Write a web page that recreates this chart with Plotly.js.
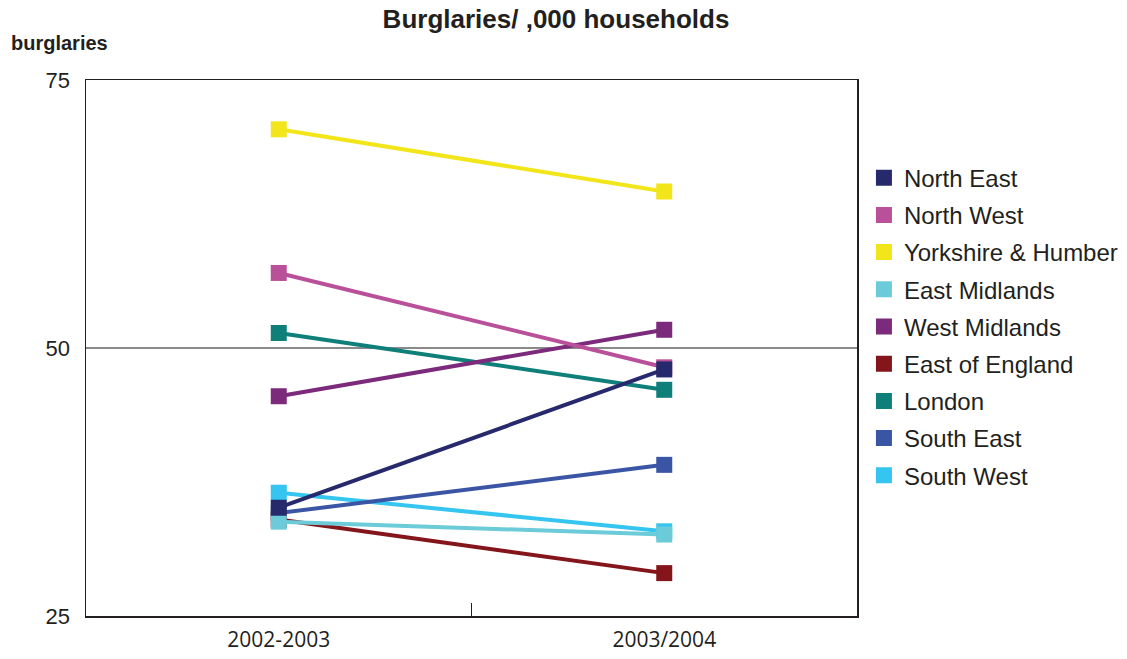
<!DOCTYPE html>
<html>
<head>
<meta charset="utf-8">
<script src="https://cdn.plot.ly/plotly-3.0.1.min.js"></script>
<style>
  html, body { margin: 0; padding: 0; background: #fff; }
  #chart { width: 1127px; height: 659px; }
</style>
</head>
<body>
<div id="chart"></div>
<script>
// Survey years on the category axis
const years = ['2002-2003', '2003/2004'];

// Regions in legend order, with their colours
const regions = ['North East', 'North West', 'Yorkshire & Humber', 'East Midlands',
  'West Midlands', 'East of England', 'London', 'South East', 'South West'];
const colors = ['#27296d', '#b9519a', '#f2e61a', '#6ccbd9',
  '#7c2a7b', '#84161b', '#0f7f7a', '#3a55a4', '#34c5f0'];

// Burglaries per 1,000 households, one array per region (2002-03, 2003/04)
const northEast = [35.1, 48.0];
const northWest = [57.0, 48.2];
const yorkshireHumber = [70.4, 64.6];
const eastMidlands = [33.8, 32.6];
const westMidlands = [45.5, 51.7];
const eastOfEngland = [34.0, 29.0];
const london = [51.4, 46.1];
const southEast = [34.6, 39.1];
const southWest = [36.5, 32.9];

const values = [northEast, northWest, yorkshireHumber, eastMidlands,
  westMidlands, eastOfEngland, london, southEast, southWest];

const yTicks = [25, 50, 75];

const FONT = '"Liberation Sans", Arial, Helvetica, sans-serif';
const TICK_FONT = '"Open Sans", "Noto Sans", sans-serif';
const TEXT = '#231f20';

const traces = [];
// Lines with markers; painted from South West up to North East so the
// North East series ends up on top.
for (let i = regions.length - 1; i >= 0; i--) {
  traces.push({
    type: 'scatter',
    mode: 'lines+markers',
    name: regions[i],
    x: years,
    y: values[i],
    line: { color: colors[i], width: 4 },
    marker: { symbol: 'square', size: 16, color: colors[i] },
    showlegend: false,
    hoverinfo: 'x+y+name'
  });
}
// Legend entries: square swatch only, in regional order
regions.forEach((name, i) => {
  traces.push({
    type: 'scatter',
    mode: 'markers',
    name: name,
    x: years,
    y: years.map(() => null),
    marker: { symbol: 'square', size: 16, color: colors[i] },
    legendrank: i + 1,
    legendgroup: name,
    showlegend: true,
    hoverinfo: 'skip'
  });
});

const layout = {
  width: 1127,
  height: 659,
  margin: { l: 86, r: 270, t: 80, b: 43, pad: 0, autoexpand: false },
  paper_bgcolor: '#ffffff',
  plot_bgcolor: '#ffffff',
  font: { family: FONT, color: TEXT },
  title: {
    text: '<b>Burglaries/ ,000 households</b>',
    font: { family: FONT, size: 26, color: TEXT },
    xref: 'container', x: 556 / 1127, xanchor: 'center',
    yref: 'container', y: 1 - 19 / 659, yanchor: 'middle'
  },
  xaxis: {
    type: 'category',
    range: [-0.5, 1.5],
    showgrid: false,
    zeroline: false,
    showline: true,
    linecolor: TEXT,
    linewidth: 1.5,
    mirror: true,
    ticks: 'inside',
    tickson: 'boundaries',
    ticklen: 13,
    tickwidth: 1.5,
    tickcolor: TEXT,
    tickfont: { family: TICK_FONT, size: 21, color: TEXT },
    ticklabelstandoff: 4
  },
  yaxis: {
    range: [25, 75],
    tickvals: yTicks,
    ticktext: yTicks.map(String),
    showgrid: true,
    gridcolor: '#8a8a8a',
    gridwidth: 2,
    zeroline: false,
    showline: true,
    linecolor: TEXT,
    linewidth: 1.5,
    mirror: true,
    ticks: '',
    tickfont: { family: FONT, size: 22, color: TEXT },
    ticklabelstandoff: 10
  },
  showlegend: true,
  legend: {
    traceorder: 'grouped',
    tracegroupgap: 3,
    x: 1.009, xanchor: 'left',
    y: 0.859, yanchor: 'top',
    font: { family: FONT, size: 24, color: TEXT },
    itemclick: false,
    itemdoubleclick: false,
    bgcolor: 'rgba(0,0,0,0)'
  },
  annotations: [{
    text: '<b>burglaries</b>',
    xref: 'paper', yref: 'paper',
    x: (9 - 86) / 771, xanchor: 'left',
    y: (616 - 43) / 536, yanchor: 'middle',
    showarrow: false,
    font: { family: FONT, size: 20, color: TEXT }
  }]
};

Plotly.newPlot('chart', traces, layout, { displayModeBar: false, staticPlot: true });
</script>
</body>
</html>
